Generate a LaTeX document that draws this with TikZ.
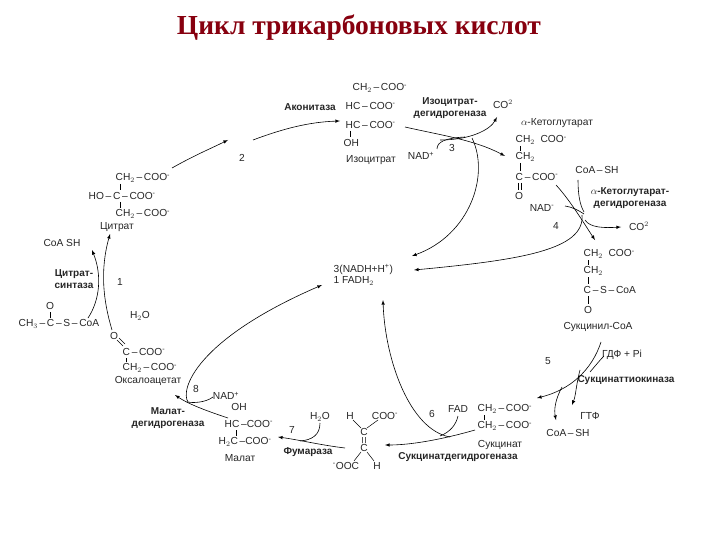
\documentclass[tikz,border=0pt]{standalone}
\usepackage{fontspec}
\setmainfont{Liberation Sans}
\newfontfamily\titlefont{Liberation Serif}
\newcommand{\mi}{\textsuperscript{-}}
\newcommand{\pl}{\textsuperscript{+}}
\begin{document}
\begin{tikzpicture}[x=1pt,y=-1pt,
  t/.style={font=\fontsize{10.2}{11.5}\selectfont,inner sep=0.5pt,text=black!85},
  tl/.style={t,anchor=west},
  b/.style={t,font=\fontsize{10}{11.5}\selectfont\bfseries},
  bond/.style={line width=0.5pt},
  ar/.style={line width=0.6pt,-latex}]
\useasboundingbox[fill=white] (0,0) rectangle (720,540);
\node[font=\fontsize{27.5}{32}\selectfont\titlefont\bfseries,text={rgb,255:red,135;green,0;blue,15}] (title) at (359,28) {Цикл трикарбоновых кислот};
% isocitrate
\node[tl] (i1) at (352,88) {CH$_2$\,–\,COO\mi};
\node[tl] (i2) at (345,106) {HC\,–\,COO\mi};
\node[tl] (i3) at (345,125) {HC\,–\,COO\mi};
\node[tl] (i4) at (343,143) {OH};
\draw[bond] (350,131)--(350,137);
\node[t] (iso) at (371,160) {Изоцитрат};
\node[b] (acon) at (310,107) {Аконитаза};
\node[t] (n2) at (242,158) {2};
% citrate
\node[tl] (c1) at (115,178) {CH$_2$\,–\,COO\mi};
\node[tl] (c2) at (88,196) {HO\,–\,C\,–\,COO\mi};
\node[tl] (c3) at (115,214) {CH$_2$\,–\,COO\mi};
\draw[bond] (120,184)--(120,190) (120,202)--(120,208);
\node[t] (cit) at (117,227) {Цитрат};
\node[t] (coash1) at (62,243) {CoA SH};
\node[b,align=center] (cs) at (74,279) {Цитрат-\\синтаза};
\node[t] (n1) at (120,282) {1};
% acetyl-CoA
\node[t] (ao) at (50,306) {O};
\node[tl] (acoa) at (18,324) {CH$_3$\,–\,C\,–\,S\,–\,CoA};
\draw[bond] (50,312)--(50,318);
\node[t] (h2o1) at (140,316) {H$_2$O};
% oxaloacetate
\node[t] (oo) at (114,336) {O};
\draw[bond] (117,340)--(123,346) (119,338)--(125,344);
\node[tl] (o1) at (122,352) {C\,–\,COO\mi};
\node[tl] (o2) at (122,368) {CH$_2$\,–\,COO\mi};
\draw[bond] (126,358)--(126,362);
\node[t] (oxa) at (148,381) {Оксалоацетат};
% malate
\node[t] (n8) at (196,389) {8};
\node[t] (nad8) at (226,396) {NAD\pl};
\node[t] (moh) at (239,407) {OH};
\node[tl] (m1) at (224,424) {HC\,–COO\mi};
\node[tl] (m2) at (218,442) {H$_2$C\,–COO\mi};
\draw[bond] (236,430)--(236,436);
\node[t] (mal) at (240,458) {Малат};
\node[b,align=center] (mdh) at (168,418) {Малат-\\дегидрогеназа};
% fumarate
\node[t] (n7) at (292,430) {7};
\node[t] (h2o7) at (320,417) {H$_2$O};
\node[b] (fum) at (308,452) {Фумараза};
\node[t] (fh1) at (350,416) {H};
\node[t] (fcoo) at (385,416) {COO\mi};
\node[t] (fc1) at (364,432) {C};
\node[t] (fc2) at (364,448) {C};
\node[t] (fooc) at (346,466) {\mi OOC};
\node[t] (fh2) at (377,466) {H};
\draw[bond] (353,420)--(361,428) (378,420)--(367,428) (362.5,437)--(362.5,443) (365.5,437)--(365.5,443)
  (361,452)--(354,461) (367,452)--(374,461);
% succinate
\node[t] (n6) at (432,414) {6};
\node[t] (fad) at (458,409) {FAD};
\node[tl] (s1) at (477,409) {CH$_2$\,–\,COO\mi};
\node[tl] (s2) at (477,426) {CH$_2$\,–\,COO\mi};
\draw[bond] (484,415)--(484,420);
\node[t] (suc) at (500,445) {Сукцинат};
\node[b] (sdh) at (458,457) {Сукцинатдегидрогеназа};
% NADH
\node[tl,align=left] (nadh) at (333,275) {3(NADH+H\pl)\\1 FADH$_2$};
% reaction 3
\node[t] (nad3) at (421,156) {NAD\pl};
\node[t] (n3) at (452,148) {3};
\node[b,align=center] (idh) at (450,108) {Изоцитрат-\\дегидрогеназа};
\node[t] (co3) at (503,104) {CO$^2$};
% alpha-KG
\node[t] (akg) at (557,123) {$\alpha$-Кетоглутарат};
\node[tl] (k1) at (515,140) {CH$_2$\ \ COO\mi};
\node[tl] (k2) at (515,157) {CH$_2$};
\node[tl] (k3) at (515,177) {C\,–\,COO\mi};
\node[t] (k4) at (519,196) {O};
\draw[bond] (520,146)--(520,151) (520,163)--(520,171) (518.5,183)--(518.5,190) (521.5,183)--(521.5,190);
\node[t] (coash4) at (597,170) {CoA\,–\,SH};
\node[b,align=center] (kgdh) at (630,198) {$\alpha$-Кетоглутарат-\\дегидрогеназа};
\node[t] (nad4) at (542,208) {NAD\mi};
\node[t] (n4) at (556,226) {4};
\node[t] (co4) at (639,226) {CO$^2$};
% succinyl-CoA
\node[tl] (u1) at (583,254) {CH$_2$\ \ COO\mi};
\node[tl] (u2) at (583,271) {CH$_2$};
\node[tl] (u3) at (583,290) {C\,–\,S\,–\,CoA};
\node[t] (u4) at (588,310) {O};
\draw[bond] (588,260)--(588,265) (588,277)--(588,284) (588,296)--(588,304);
\node[t] (sucoa) at (598,327) {Сукцинил-CoA};
\node[t] (n5) at (548,361) {5};
\node[t] (gdp) at (622,355) {ГДФ + Pi};
\node[b] (stk) at (626,380) {Сукцинаттиокиназа};
\node[t] (gtp) at (590,416) {ГТФ};
\node[t] (coash5) at (568,433) {CoA\,–\,SH};
% arrows
\draw[ar] (172,168) .. controls (195,155) and (212,148) .. (228,140);
\draw[ar] (253,140) .. controls (285,128) and (310,122) .. (340,121);
\draw[ar] (405,127) .. controls (440,135) and (475,140) .. (505,156);
\draw[ar] (440,140) .. controls (470,140) and (490,130) .. (497,117);
\draw[line width=0.6pt] (437,149) .. controls (437,142) and (445,138) .. (465,137);
\draw[ar] (472,138) .. controls (490,175) and (470,235) .. (412,256);
\draw[ar] (556,185) .. controls (570,200) and (585,225) .. (595,240);
\draw[line width=0.6pt] (578,180) .. controls (578,195) and (580,205) .. (584,212);
\draw[line width=0.6pt] (565,206) .. controls (572,207) and (578,210) .. (584,214);
\draw[ar] (585,220) .. controls (590,228) and (605,228) .. (621,227);
\draw[ar] (582,215) .. controls (585,250) and (520,260) .. (414,270);
\draw[ar] (601,342) .. controls (592,370) and (570,390) .. (537,398);
\draw[line width=0.6pt] (604,356) .. controls (600,360) and (596,365) .. (590,372);
\draw[ar] (580,370) .. controls (576,385) and (576,395) .. (572,405);
\draw[ar] (562,387) .. controls (555,400) and (554,410) .. (556,420);
\draw[ar] (475,430) .. controls (440,440) and (410,445) .. (385,445);
\draw[line width=0.6pt] (458,416) .. controls (456,425) and (450,432) .. (440,436);
\draw[ar] (450,437) .. controls (410,430) and (385,360) .. (383,300);
\draw[ar] (345,448) .. controls (320,445) and (300,440) .. (278,437);
\draw[line width=0.6pt] (320,423) .. controls (320,435) and (312,440) .. (300,441);
\draw[ar] (228,418) .. controls (210,412) and (190,405) .. (175,395);
\draw[line width=0.6pt] (213,397) .. controls (205,403) and (192,403) .. (188,402);
\draw[ar] (188,402) .. controls (180,390) and (195,340) .. (322,285);
\draw[ar] (112,330) .. controls (103,300) and (100,270) .. (110,234);
\draw[ar] (88,318) .. controls (100,300) and (102,275) .. (92,250);
\end{tikzpicture}
\end{document}
